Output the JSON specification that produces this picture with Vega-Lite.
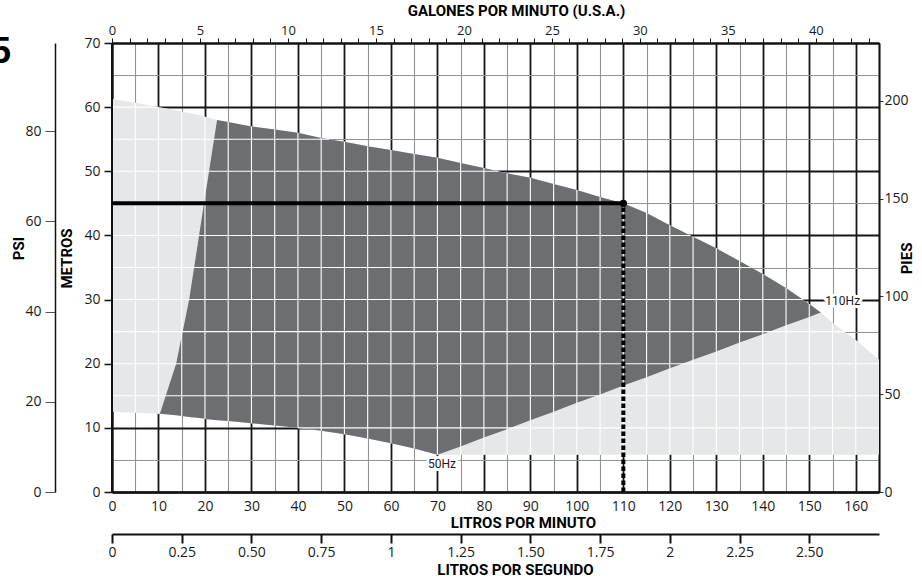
{
  "$schema": "https://vega.github.io/schema/vega-lite/v6.json",
  "width": 767,
  "height": 449,
  "autosize": {"type": "none"},
  "padding": {"left": 112, "top": 43, "right": 43, "bottom": 89},
  "background": "white",
  "config": {
    "view": {"stroke": null},
    "axis": {
      "labelFont": "Open Sans",
      "labelFontSize": 14,
      "labelColor": "#1a1a1a",
      "titleFont": "Roboto",
      "titleFontSize": 15,
      "titleFontWeight": "bold",
      "titleColor": "#000000"
    }
  },
  "title": {
    "text": "5",
    "anchor": "start",
    "frame": "group",
    "font": "Liberation Sans",
    "fontSize": 36,
    "fontWeight": "bold",
    "color": "#000000",
    "dx": -121,
    "dy": 68,
    "offset": 0
  },
  "datasets": {
    "env": [
      {"x": 0, "U": 61.3, "L": 12.5},
      {"x": 5, "U": 60.7, "L": 12.35},
      {"x": 10, "U": 60.0, "L": 12.2},
      {"x": 10.3, "U": 60.0, "L": 12.2, "Dt": 12.2, "Db": 12.2},
      {"x": 13.8, "U": 59.5, "L": 11.95, "Dt": 20, "Db": 11.95},
      {"x": 15, "U": 59.3, "L": 11.85, "Dt": 24.3, "Db": 11.85},
      {"x": 16.6, "U": 59.1, "L": 11.7, "Dt": 30, "Db": 11.7},
      {"x": 19.8, "U": 58.6, "L": 11.45, "Dt": 45, "Db": 11.45},
      {"x": 20, "U": 58.5, "L": 11.4, "Dt": 45.9, "Db": 11.4},
      {"x": 22.6, "U": 58.0, "L": 11.2, "Dt": 58.0, "Db": 11.2},
      {"x": 25, "U": 57.7, "L": 11.05, "Dt": 57.7, "Db": 11.05},
      {"x": 30, "U": 57.0, "L": 10.7, "Dt": 57.0, "Db": 10.7},
      {"x": 35, "U": 56.5, "L": 10.35, "Dt": 56.5, "Db": 10.35},
      {"x": 40, "U": 56.0, "L": 10.0, "Dt": 56.0, "Db": 10.0},
      {"x": 45, "U": 55.2, "L": 9.55, "Dt": 55.2, "Db": 9.55},
      {"x": 50, "U": 54.6, "L": 9.0, "Dt": 54.6, "Db": 9.0},
      {"x": 55, "U": 53.9, "L": 8.35, "Dt": 53.9, "Db": 8.35},
      {"x": 60, "U": 53.3, "L": 7.6, "Dt": 53.3, "Db": 7.6},
      {"x": 65, "U": 52.7, "L": 6.8, "Dt": 52.7, "Db": 6.8},
      {"x": 70, "U": 52.1, "L": 5.8, "Dt": 52.1, "Db": 5.8},
      {"x": 75, "U": 51.3, "L": 5.8, "Dt": 51.3, "Db": 7.1},
      {"x": 80, "U": 50.5, "L": 5.8, "Dt": 50.5, "Db": 8.5},
      {"x": 85, "U": 49.7, "L": 5.8, "Dt": 49.7, "Db": 9.8},
      {"x": 90, "U": 49.0, "L": 5.8, "Dt": 49.0, "Db": 11.2},
      {"x": 95, "U": 48.0, "L": 5.8, "Dt": 48.0, "Db": 12.5},
      {"x": 100, "U": 47.1, "L": 5.8, "Dt": 47.1, "Db": 13.9},
      {"x": 105, "U": 46.0, "L": 5.8, "Dt": 46.0, "Db": 15.2},
      {"x": 110, "U": 45.0, "L": 5.8, "Dt": 45.0, "Db": 16.6},
      {"x": 115, "U": 43.5, "L": 5.8, "Dt": 43.5, "Db": 17.9},
      {"x": 120, "U": 41.6, "L": 5.8, "Dt": 41.6, "Db": 19.3},
      {"x": 125, "U": 39.8, "L": 5.8, "Dt": 39.8, "Db": 20.6},
      {"x": 130, "U": 38.0, "L": 5.8, "Dt": 38.0, "Db": 21.9},
      {"x": 135, "U": 36.0, "L": 5.8, "Dt": 36.0, "Db": 23.3},
      {"x": 140, "U": 34.0, "L": 5.8, "Dt": 34.0, "Db": 24.6},
      {"x": 145, "U": 31.8, "L": 5.8, "Dt": 31.8, "Db": 26.0},
      {"x": 150, "U": 29.3, "L": 5.8, "Dt": 29.3, "Db": 27.3},
      {"x": 152.5, "U": 28.0, "L": 5.8, "Dt": 28.0, "Db": 28.0},
      {"x": 155, "U": 26.4, "L": 5.8},
      {"x": 160, "U": 23.7, "L": 5.8},
      {"x": 165, "U": 20.6, "L": 5.8}
    ],
    "hgrid": [
      {"y": 10, "x1": 40, "x2": 165},
      {"y": 15, "x1": 0, "x2": 165},
      {"y": 20, "x1": 0, "x2": 165},
      {"y": 25, "x1": 0, "x2": 157.6},
      {"y": 30, "x1": 0, "x2": 148.6},
      {"y": 35, "x1": 0, "x2": 137.5},
      {"y": 40, "x1": 0, "x2": 124.4},
      {"y": 45, "x1": 0, "x2": 110},
      {"y": 50, "x1": 0, "x2": 83.1},
      {"y": 55, "x1": 0, "x2": 46.7},
      {"y": 60, "x1": 0, "x2": 10}
    ],
    "op": [{"q": 110, "h": 45, "q0": 0, "h0": 0, "htop": 70}],
    "hz": [
      {"x": 71, "y": 4.4, "t": "50Hz"},
      {"x": 157.2, "y": 29.7, "t": "110Hz"}
    ]
  },
  "layer": [
    {
      "data": {"name": "env"},
      "mark": {"type": "area", "color": "#e6e7e8"},
      "encoding": {
        "x": {
          "field": "x", "type": "quantitative",
          "scale": {"domain": [0, 165], "nice": false},
          "axis": {
            "orient": "bottom",
            "values": [0,5,10,15,20,25,30,35,40,45,50,55,60,65,70,75,80,85,90,95,100,105,110,115,120,125,130,135,140,145,150,155,160,165],
            "grid": true,
            "gridColor": {"condition": {"test": "datum.value % 10 === 0 || datum.value === 165", "value": "#161616"}, "value": "#939393"},
            "gridWidth": {"condition": {"test": "datum.value % 10 === 0 || datum.value === 165", "value": 1.8}, "value": 1.1},
            "ticks": false,
            "labelExpr": "datum.value % 10 === 0 && datum.value <= 160 ? datum.label : ''",
            "labelPadding": 7,
            "labelOverlap": false,
            "labelFlush": false,
            "domainColor": "#111111",
            "domainWidth": 2.5,
            "title": "LITROS POR MINUTO",
            "titlePadding": 2,
            "titleX": 411
          }
        },
        "y": {
          "field": "U", "type": "quantitative",
          "scale": {"domain": [0, 70], "nice": false},
          "axis": {
            "orient": "left",
            "values": [0,5,10,15,20,25,30,35,40,45,50,55,60,65,70],
            "grid": true,
            "gridColor": {"condition": {"test": "datum.value % 10 === 0", "value": "#161616"}, "value": "#939393"},
            "gridWidth": {"condition": {"test": "datum.value % 10 === 0", "value": 1.8}, "value": 1.1},
            "tickColor": "#111111",
            "tickSize": 8,
            "tickWidth": 1.5,
            "tickOpacity": {"condition": {"test": "datum.value % 10 === 0", "value": 1}, "value": 0},
            "labelExpr": "datum.value % 10 === 0 ? datum.label : ''",
            "labelPadding": 4,
            "labelOverlap": false,
            "labelFlush": false,
            "domainColor": "#111111",
            "domainWidth": 2,
            "title": "METROS",
            "titlePadding": 9,
            "titleY": 215
          }
        },
        "y2": {"field": "L"}
      }
    },
    {
      "data": {"name": "env"},
      "transform": [{"filter": "isValid(datum.Dt)"}],
      "mark": {"type": "area", "color": "#6d6e71"},
      "encoding": {
        "x": {"field": "x", "type": "quantitative", "scale": {"domain": [0, 165], "nice": false}, "axis": null},
        "y": {"field": "Dt", "type": "quantitative", "scale": {"domain": [0, 70], "nice": false}, "axis": null},
        "y2": {"field": "Db"}
      }
    },
    {
      "data": {"name": "env"},
      "transform": [{"filter": "datum.x % 5 === 0 && datum.x > 0 && datum.x < 165"}],
      "mark": {"type": "rule", "color": "#ffffff", "strokeWidth": 1.1},
      "encoding": {
        "x": {"field": "x", "type": "quantitative", "scale": {"domain": [0, 165], "nice": false}, "axis": null},
        "y": {"field": "U", "type": "quantitative", "scale": {"domain": [0, 70], "nice": false}, "axis": null},
        "y2": {"field": "L"}
      }
    },
    {
      "data": {"name": "hgrid"},
      "mark": {"type": "rule", "color": "#ffffff", "strokeWidth": 1.1},
      "encoding": {
        "y": {"field": "y", "type": "quantitative", "scale": {"domain": [0, 70], "nice": false}, "axis": null},
        "x": {"field": "x1", "type": "quantitative", "scale": {"domain": [0, 165], "nice": false}, "axis": null},
        "x2": {"field": "x2"}
      }
    },
    {
      "data": {"name": "op"},
      "mark": {"type": "rule", "color": "#111111", "strokeWidth": 2},
      "encoding": {
        "x": {"field": "q0", "type": "quantitative", "scale": {"domain": [0, 165], "nice": false}, "axis": null},
        "y": {"field": "h0", "type": "quantitative", "scale": {"domain": [0, 70], "nice": false}, "axis": null},
        "y2": {"field": "htop"}
      }
    },
    {
      "data": {"name": "op"},
      "mark": {"type": "rule", "color": "#000000", "strokeWidth": 4},
      "encoding": {
        "x": {"field": "q0", "type": "quantitative", "scale": {"domain": [0, 165], "nice": false}, "axis": null},
        "x2": {"field": "q"},
        "y": {"field": "h", "type": "quantitative", "scale": {"domain": [0, 70], "nice": false}, "axis": null}
      }
    },
    {
      "data": {"name": "op"},
      "mark": {"type": "rule", "color": "#000000", "strokeWidth": 4, "strokeDash": [4.5, 2.5]},
      "encoding": {
        "x": {"field": "q", "type": "quantitative", "scale": {"domain": [0, 165], "nice": false}, "axis": null},
        "y": {"field": "h0", "type": "quantitative", "scale": {"domain": [0, 70], "nice": false}, "axis": null},
        "y2": {"field": "h"}
      }
    },
    {
      "data": {"name": "op"},
      "mark": {"type": "point", "filled": true, "color": "#000000", "size": 55, "opacity": 1},
      "encoding": {
        "x": {"field": "q", "type": "quantitative", "scale": {"domain": [0, 165], "nice": false}, "axis": null},
        "y": {"field": "h", "type": "quantitative", "scale": {"domain": [0, 70], "nice": false}, "axis": null}
      }
    },
    {
      "data": {"name": "hz"},
      "mark": {"type": "text", "font": "Roboto", "fontSize": 12, "stroke": "#ffffff", "strokeWidth": 6, "fill": "#ffffff", "strokeJoin": "round"},
      "encoding": {
        "x": {"field": "x", "type": "quantitative", "scale": {"domain": [0, 165], "nice": false}, "axis": null},
        "y": {"field": "y", "type": "quantitative", "scale": {"domain": [0, 70], "nice": false}, "axis": null},
        "text": {"field": "t"}
      }
    },
    {
      "data": {"name": "hz"},
      "mark": {"type": "text", "font": "Roboto", "fontSize": 12, "color": "#1a1a1a"},
      "encoding": {
        "x": {"field": "x", "type": "quantitative", "scale": {"domain": [0, 165], "nice": false}, "axis": null},
        "y": {"field": "y", "type": "quantitative", "scale": {"domain": [0, 70], "nice": false}, "axis": null},
        "text": {"field": "t"}
      }
    },
    {
      "data": {"values": [{"psi": 0, "x": 0}, {"psi": 99.53, "x": 165}]},
      "mark": {"type": "point", "opacity": 0},
      "encoding": {
        "x": {"field": "x", "type": "quantitative", "scale": {"domain": [0, 165], "nice": false}, "axis": null},
        "y": {
          "field": "psi", "type": "quantitative",
          "scale": {"domain": [0, 99.53], "nice": false},
          "axis": {
            "orient": "left", "offset": 57,
            "values": [0, 20, 40, 60, 80],
            "grid": false,
            "domainColor": "#111111", "domainWidth": 1.5,
            "tickColor": "#555555", "tickSize": 10, "tickWidth": 1,
            "labelPadding": 4,
            "title": "PSI", "titlePadding": -2,
            "titleY": 205
          }
        }
      }
    },
    {
      "data": {"values": [{"ft": 0, "x": 0}, {"ft": 229.66, "x": 165}]},
      "mark": {"type": "point", "opacity": 0},
      "encoding": {
        "x": {"field": "x", "type": "quantitative", "scale": {"domain": [0, 165], "nice": false}, "axis": null},
        "y": {
          "field": "ft", "type": "quantitative",
          "scale": {"domain": [0, 229.66], "nice": false},
          "axis": {
            "orient": "right",
            "values": [0, 50, 100, 150, 200],
            "grid": false,
            "domainColor": "#111111", "domainWidth": 1.5,
            "tickColor": "#333333", "tickSize": 4, "tickWidth": 1,
            "labelPadding": 1,
            "title": "PIES", "titleAngle": 270, "titlePadding": 6,
            "titleY": 215
          }
        }
      }
    },
    {
      "data": {"values": [{"g": 0, "y": 0}, {"g": 43.59, "y": 70}]},
      "mark": {"type": "point", "opacity": 0},
      "encoding": {
        "y": {"field": "y", "type": "quantitative", "scale": {"domain": [0, 70], "nice": false}, "axis": null},
        "x": {
          "field": "g", "type": "quantitative",
          "scale": {"domain": [0, 43.59], "nice": false},
          "axis": {
            "orient": "top",
            "values": [0,1,2,3,4,5,6,7,8,9,10,11,12,13,14,15,16,17,18,19,20,21,22,23,24,25,26,27,28,29,30,31,32,33,34,35,36,37,38,39,40,41,42,43],
            "grid": false,
            "labelExpr": "datum.value % 5 === 0 ? datum.label : ''",
            "labelOverlap": false,
            "labelFlush": false,
            "labelFontSize": 13,
            "domainColor": "#111111", "domainWidth": 2,
            "tickColor": "#111111", "tickSize": 5, "tickWidth": 1,
            "labelPadding": 1,
            "title": "GALONES POR MINUTO (U.S.A.)", "titlePadding": 6,
            "titleX": 404
          }
        }
      }
    },
    {
      "data": {"values": [{"s": 0, "y": 0}, {"s": 2.75, "y": 70}]},
      "mark": {"type": "point", "opacity": 0},
      "encoding": {
        "y": {"field": "y", "type": "quantitative", "scale": {"domain": [0, 70], "nice": false}, "axis": null},
        "x": {
          "field": "s", "type": "quantitative",
          "scale": {"domain": [0, 2.75], "nice": false},
          "axis": {
            "orient": "bottom", "offset": 42,
            "values": [0, 0.25, 0.5, 0.75, 1, 1.25, 1.5, 1.75, 2, 2.25, 2.5],
            "grid": false,
            "labelExpr": "datum.value % 1 === 0 ? format(datum.value, 'd') : format(datum.value, '.2f')",
            "labelOverlap": false,
            "labelFlush": false,
            "domainColor": "#111111", "domainWidth": 2,
            "tickColor": "#111111", "tickSize": 9, "tickWidth": 2,
            "labelPadding": 2,
            "title": "LITROS POR SEGUNDO", "titlePadding": 3,
            "titleX": 403
          }
        }
      }
    }
  ],
  "resolve": {"scale": {"x": "independent", "y": "independent"}}
}
